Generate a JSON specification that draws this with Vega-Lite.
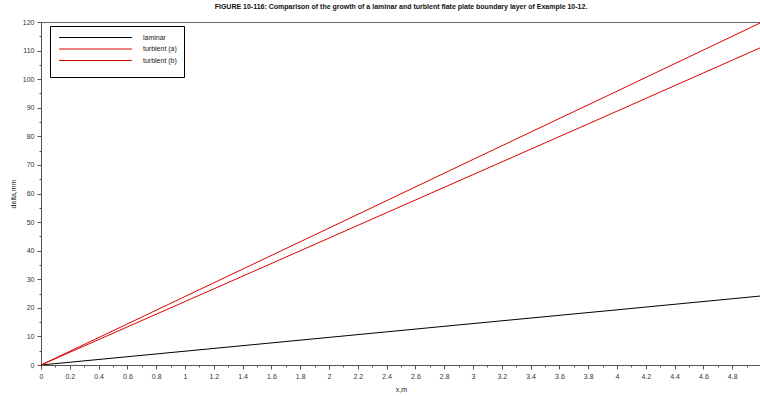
{
  "$schema": "https://vega.github.io/schema/vega-lite/v6.json",
  "autosize": {"type": "none"},
  "padding": {"left": 41, "top": 22, "right": 0, "bottom": 31},
  "width": 720,
  "height": 343,
  "background": "white",
  "config": {
    "font": "Liberation Sans",
    "view": {"stroke": "#666666", "strokeWidth": 1},
    "axis": {"domainColor": "#555555", "tickColor": "#555555", "labelColor": "#333333", "labelFontSize": 7, "titleFontSize": 7, "titleFontWeight": "normal", "titleColor": "#222222", "grid": false}
  },
  "title": {
    "text": "FIGURE 10-116: Comparison of the growth of a laminar and turblent flate plate boundary layer of Example 10-12.",
    "fontSize": 7,
    "fontWeight": "bold",
    "color": "#111111",
    "offset": 8,
    "anchor": "middle"
  },
  "data": {
    "values": [
      {"x": 0, "delta": 0, "series": "laminar"},
      {"x": 1, "delta": 4.83, "series": "laminar"},
      {"x": 2, "delta": 9.66, "series": "laminar"},
      {"x": 3, "delta": 14.5, "series": "laminar"},
      {"x": 4, "delta": 19.3, "series": "laminar"},
      {"x": 5, "delta": 24.15, "series": "laminar"},
      {"x": 0, "delta": 0, "series": "turblent (a)"},
      {"x": 1, "delta": 23.96, "series": "turblent (a)"},
      {"x": 2, "delta": 47.9, "series": "turblent (a)"},
      {"x": 3, "delta": 71.9, "series": "turblent (a)"},
      {"x": 4, "delta": 95.8, "series": "turblent (a)"},
      {"x": 5, "delta": 119.8, "series": "turblent (a)"},
      {"x": 0, "delta": 0, "series": "turblent (b)"},
      {"x": 1, "delta": 22.2, "series": "turblent (b)"},
      {"x": 2, "delta": 44.4, "series": "turblent (b)"},
      {"x": 3, "delta": 66.6, "series": "turblent (b)"},
      {"x": 4, "delta": 88.8, "series": "turblent (b)"},
      {"x": 5, "delta": 111.1, "series": "turblent (b)"}
    ]
  },
  "mark": {"type": "line", "strokeWidth": 1, "clip": true},
  "encoding": {
    "x": {
      "field": "x",
      "type": "quantitative",
      "scale": {"domain": [0, 5], "nice": false, "zero": false},
      "axis": {
        "title": "x,m",
        "titlePadding": 6,
        "values": [0, 0.1, 0.2, 0.3, 0.4, 0.5, 0.6, 0.7, 0.8, 0.9, 1, 1.1, 1.2, 1.3, 1.4, 1.5, 1.6, 1.7, 1.8, 1.9, 2, 2.1, 2.2, 2.3, 2.4, 2.5, 2.6, 2.7, 2.8, 2.9, 3, 3.1, 3.2, 3.3, 3.4, 3.5, 3.6, 3.7, 3.8, 3.9, 4, 4.1, 4.2, 4.3, 4.4, 4.5, 4.6, 4.7, 4.8, 4.9],
        "labelExpr": "round(datum.value * 10) % 2 == 0 ? format(datum.value, '.1~f') : ''",
        "labelOverlap": false,
        "labelFlush": false,
        "labelPadding": 3,
        "tickSize": {"condition": {"test": "round(datum.value * 10) % 2 == 0", "value": 4}, "value": 2}
      }
    },
    "y": {
      "field": "delta",
      "type": "quantitative",
      "scale": {"domain": [0, 120], "nice": false},
      "axis": {
        "title": "delta,mm",
        "titlePadding": 6,
        "values": [0, 5, 10, 15, 20, 25, 30, 35, 40, 45, 50, 55, 60, 65, 70, 75, 80, 85, 90, 95, 100, 105, 110, 115, 120],
        "labelExpr": "datum.value % 10 == 0 ? datum.label : ''",
        "labelOverlap": false,
        "labelFlush": false,
        "labelPadding": 3,
        "tickSize": {"condition": {"test": "datum.value % 10 == 0", "value": 4}, "value": 2}
      }
    },
    "color": {
      "field": "series",
      "type": "nominal",
      "scale": {"domain": ["laminar", "turblent (a)", "turblent (b)"], "range": ["#000000", "#dd0000", "#dd0000"]},
      "legend": {
        "title": " ",
        "titleOrient": "bottom",
        "titleFontSize": 6,
        "titlePadding": 0,
        "orient": "none",
        "legendX": 9,
        "legendY": 4,
        "symbolType": "M-0.6,0H17.6",
        "symbolSize": 64,
        "symbolStrokeWidth": 1,
        "labelFontSize": 7,
        "labelColor": "#222222",
        "labelOffset": 77,
        "rowPadding": 3.5,
        "padding": 7,
        "strokeColor": "#000000",
        "fillColor": "white"
      }
    }
  }
}
